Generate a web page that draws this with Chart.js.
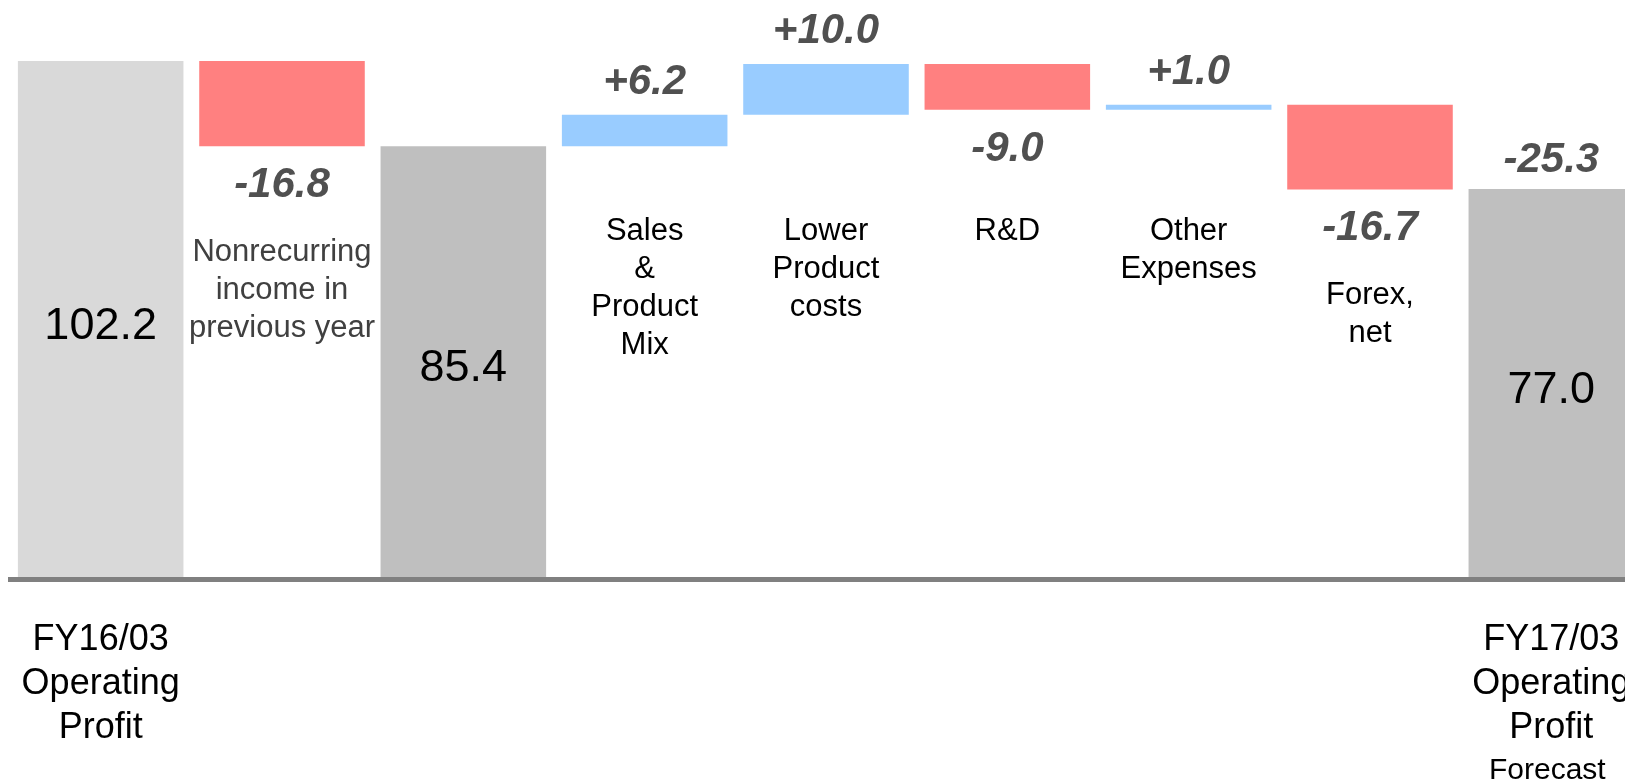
<!DOCTYPE html>
<html>
<head>
<meta charset="utf-8">
<title>Operating Profit Bridge</title>
<script src="https://cdn.jsdelivr.net/npm/chart.js@4/dist/chart.umd.min.js"></script>
<style>
  html, body { margin: 0; padding: 0; background: #fff; overflow: hidden; }
  #wrap { position: relative; width: 1642px; height: 780px; }
</style>
</head>
<body>
<div id="wrap"><canvas id="bridge"></canvas></div>
<script>
// bridge steps, left to right
const categories = ['FY16/03', 'Nonrecurring', 'Subtotal', 'Sales & Product Mix', 'Lower Product costs', 'R&D', 'Other Expenses', 'Forex, net', 'FY17/03'];
const barKinds = ['total', 'change', 'total', 'change', 'change', 'change', 'change', 'change', 'total'];
const barValues = [102.2, -16.8, 85.4, 6.2, 10.0, -9.0, 1.0, -16.7, 77.0];
const netChange = '-25.3';

const stepNotes = [
  [],
  ['Nonrecurring', 'income in', 'previous year'],
  [],
  ['Sales', '&', 'Product', 'Mix'],
  ['Lower', 'Product', 'costs'],
  ['R&D'],
  ['Other', 'Expenses'],
  ['Forex,', 'net'],
  []
];
const axisNames = [['FY16/03', 'Operating', 'Profit'], [], [], [], [], [], [], [], ['FY17/03', 'Operating', 'Profit']];
const forecastTag = 'Forecast';

const FONT = "'Liberation Sans', Arial, sans-serif";

// floating bars: totals start at zero, changes start at the running level
let level = 0;
const ranges = barValues.map((v, i) => {
  if (barKinds[i] === 'total') { level = v; return [0, v]; }
  const r = [level, level + v];
  level += v;
  return r;
});
const colors = barValues.map((v, i) => {
  if (barKinds[i] === 'total') return i === 0 ? '#d9d9d9' : '#bfbfbf';
  return v > 0 ? '#99ccff' : '#ff8080';
});

const bridgeText = {
  id: 'bridgeText',
  afterDatasetsDraw(chart) {
    const ctx = chart.ctx;
    const meta = chart.getDatasetMeta(0);
    ctx.save();
    ctx.textAlign = 'center';
    ctx.textBaseline = 'alphabetic';
    meta.data.forEach((bar, i) => {
      const top = Math.min(bar.y, bar.base);
      const bottom = Math.max(bar.y, bar.base);
      const cx = bar.x;
      const v = barValues[i];
      let noteY = 240;
      if (barKinds[i] === 'total') {
        ctx.font = '45px ' + FONT;
        ctx.fillStyle = '#000';
        const mid = (top + bottom) / 2 + 2.5;
        ctx.fillText(v.toFixed(1), cx, mid + 16);
      } else {
        ctx.font = 'italic bold 42px ' + FONT;
        ctx.fillStyle = '#505050';
        const txt = (v > 0 ? '+' : '') + v.toFixed(1);
        if (v > 0) {
          ctx.fillText(txt, cx, top - 21);
        } else {
          const y = bottom + 51;
          ctx.fillText(txt, cx, y);
          noteY = Math.max(noteY, y + 64);
        }
      }
      // description under the step
      ctx.font = '31px ' + FONT;
      ctx.fillStyle = i === 1 ? '#404040' : '#000';
      stepNotes[i].forEach((line, k) => ctx.fillText(line, cx, noteY + k * 38));

      // names under the axis
      ctx.font = '36px ' + FONT;
      ctx.fillStyle = '#000';
      axisNames[i].forEach((line, k) => ctx.fillText(line, cx, 650 + k * 44));
    });

    // overall change over the last bar
    const last = meta.data[meta.data.length - 1];
    ctx.font = 'italic bold 42px ' + FONT;
    ctx.fillStyle = '#505050';
    ctx.fillText(netChange, last.x, Math.min(last.y, last.base) - 17);

    ctx.font = '30px ' + FONT;
    ctx.fillStyle = '#000';
    ctx.fillText(forecastTag, last.x - 4, 779);
    ctx.restore();
  }
};

new Chart(document.getElementById('bridge'), {
  type: 'bar',
  data: {
    labels: categories,
    datasets: [{
      data: ranges,
      backgroundColor: colors,
      borderWidth: 0,
      barPercentage: 0.913,
      categoryPercentage: 1.0
    }]
  },
  options: {
    responsive: true,
    maintainAspectRatio: false,
    animation: false,
    layout: { padding: { left: 10, right: 0, top: 21.5, bottom: 0 } },
    plugins: {
      legend: { display: false },
      tooltip: { enabled: false }
    },
    scales: {
      x: {
        grid: { display: false },
        ticks: { display: false },
        border: { display: true, color: '#808080', width: 5, z: 1 },
        afterFit(scale) { scale.height = 200.5; }
      },
      y: {
        display: false,
        min: 0,
        max: 110
      }
    }
  },
  plugins: [bridgeText]
});
</script>
</body>
</html>
